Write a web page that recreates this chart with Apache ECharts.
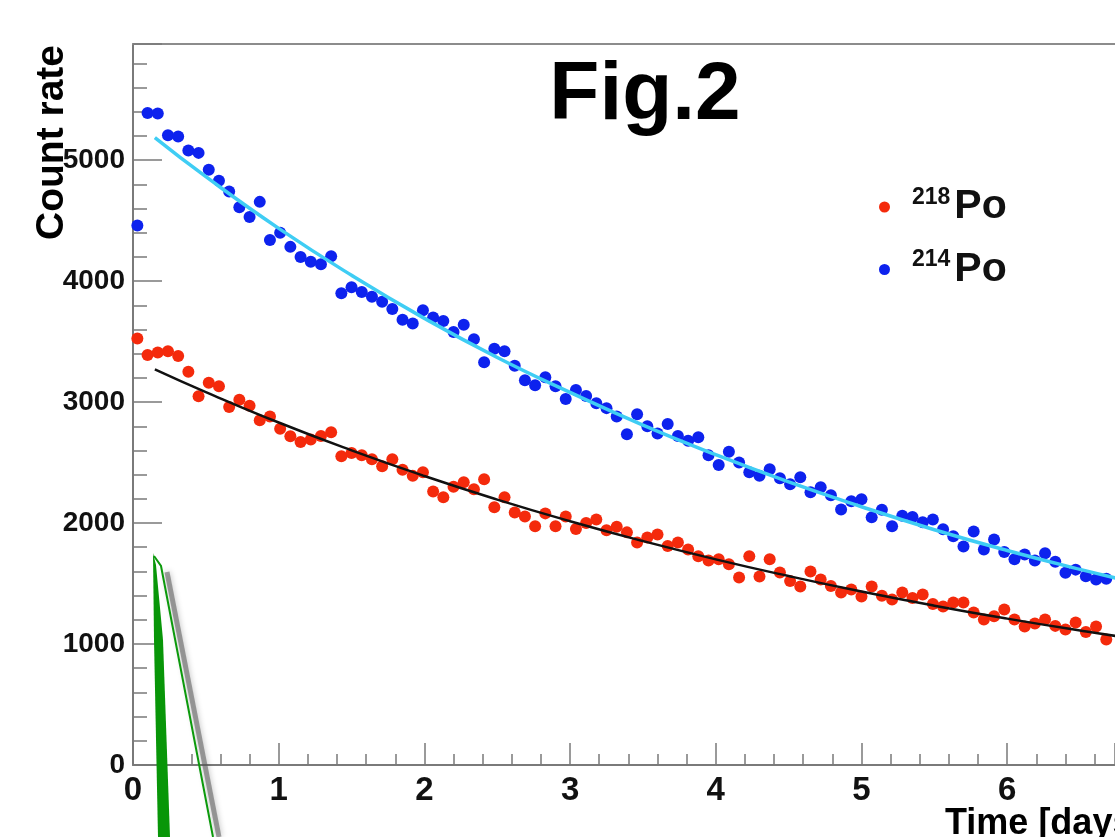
<!DOCTYPE html>
<html>
<head>
<meta charset="utf-8">
<script src="https://cdn.jsdelivr.net/npm/echarts@6/dist/echarts.min.js"></script>
<style>
  html, body { margin: 0; padding: 0; background: #ffffff; }
  #chart { width: 1115px; height: 837px; }
</style>
</head>
<body>
<div id="chart"></div>
<script>
// ---- data ----
const times = [0.03,0.10,0.17,0.24,0.31,0.38,0.45,0.52,0.59,0.66,0.73,0.80,0.87,0.94,1.01,1.08,1.15,1.22,1.29,1.36,
  1.43,1.50,1.57,1.64,1.71,1.78,1.85,1.92,1.99,2.06,2.13,2.20,2.27,2.34,2.41,2.48,2.55,2.62,2.69,2.76,
  2.83,2.90,2.97,3.04,3.11,3.18,3.25,3.32,3.39,3.46,3.53,3.60,3.67,3.74,3.81,3.88,3.95,4.02,4.09,4.16,
  4.23,4.30,4.37,4.44,4.51,4.58,4.65,4.72,4.79,4.86,4.93,5.00,5.07,5.14,5.21,5.28,5.35,5.42,5.49,5.56,
  5.63,5.70,5.77,5.84,5.91,5.98,6.05,6.12,6.19,6.26,6.33,6.40,6.47,6.54,6.61,6.68,6.75,6.82];

const po214 = [4460,5390,5385,5205,5195,5080,5060,4920,4830,4740,4610,4530,4655,4340,4400,4283,4200,4160,4140,4205,
  3900,3950,3910,3870,3830,3770,3680,3650,3760,3700,3670,3580,3640,3520,3330,3440,3420,3300,3180,3140,
  3205,3130,3025,3100,3050,2990,2950,2880,2735,2900,2800,2740,2818,2720,2680,2709,2560,2480,2590,2500,
  2420,2390,2445,2370,2320,2378,2254,2296,2230,2113,2180,2196,2047,2110,1973,2060,2050,2006,2030,1948,
  1890,1807,1930,1782,1865,1760,1700,1740,1690,1750,1680,1590,1615,1560,1534,1540,1509,1480];

const po218 = [3525,3390,3410,3421,3380,3250,3049,3160,3130,2960,3020,2970,2850,2880,2780,2718,2670,2690,2720,2750,
  2552,2580,2560,2527,2470,2527,2440,2390,2420,2260,2213,2300,2337,2280,2362,2130,2213,2088,2055,1973,
  2080,1973,2055,1950,2000,2030,1940,1970,1923,1840,1880,1906,1810,1840,1782,1725,1690,1700,1660,1550,
  1725,1559,1700,1592,1520,1476,1600,1534,1480,1426,1450,1393,1476,1400,1368,1426,1380,1410,1330,1310,
  1343,1343,1260,1203,1230,1285,1203,1145,1170,1203,1150,1120,1178,1100,1145,1037,1060,1040];

const fitTimes = [0.15,0.5,1.0,1.5,2.0,2.5,3.0,3.5,4.0,4.5,5.0,5.5,6.0,6.5,7.0,7.5];
const fit214 = [5186,4863,4436,4048,3692,3369,3080,2810,2565,2340,2135,1945,1773,1617,1475,1346];
const fit218 = [3271,3083,2831,2601,2389,2194,2015,1851,1700,1562,1434,1317,1210,1112,1021,938];

const seriesNames = ['218Po', '214Po'];
const xTitle = 'Time [days]';
const yTitle = 'Count rate';
const figTitle = 'Fig.2';

// ---- chart ----
const chart = echarts.init(document.getElementById('chart'), null, { renderer: 'canvas' });
const FONT = '"Liberation Sans", Arial, Helvetica, sans-serif';
const axisGray = '#7a7a7a';

const option = {
  backgroundColor: '#ffffff',
  animation: false,
  grid: {
    left: 133, top: 44, right: 0, bottom: 72,
    show: false
  },
  xAxis: [
    {
      type: 'value', min: 0, max: 6.74, interval: 1, position: 'bottom',
      axisLine: { show: true, onZero: false, lineStyle: { color: axisGray, width: 2 } },
      axisTick: { show: true, inside: true, length: 22, lineStyle: { color: axisGray, width: 1.5 } },
      minorTick: { show: true, splitNumber: 5, length: 11, lineStyle: { color: axisGray, width: 1.5 } },
      splitLine: { show: false },
      axisLabel: { show: true, showMaxLabel: false, margin: 9, color: '#111', fontFamily: FONT, fontWeight: 'bold', fontSize: 33 }
    },
    {
      type: 'value', min: 0, max: 6.74, position: 'top',
      axisLine: { show: true, onZero: false, lineStyle: { color: '#8c8c8c', width: 2 } },
      axisTick: { show: false }, axisLabel: { show: false }, splitLine: { show: false }
    }
  ],
  yAxis: {
    type: 'value', min: 0, max: 5960, interval: 1000,
    axisLine: { show: true, onZero: false, lineStyle: { color: axisGray, width: 2 } },
    axisTick: { show: true, inside: true, length: 29, lineStyle: { color: axisGray, width: 1.5 } },
    minorTick: { show: true, splitNumber: 5, length: 14, lineStyle: { color: axisGray, width: 1.5 } },
    splitLine: { show: false },
    axisLabel: {
      show: true, showMaxLabel: false, margin: 8, color: '#111', fontFamily: FONT, fontWeight: 'bold', fontSize: 28,
      formatter: function (v) { return String(v); }
    }
  },
  legend: {
    orient: 'vertical', left: 879, top: 186, itemGap: 21, padding: 0,
    itemWidth: 11, itemHeight: 11, icon: 'circle',
    data: seriesNames,
    formatter: function (name) {
      return '{s|' + name.slice(0, 3) + '}{p|' + name.slice(3) + '}';
    },
    textStyle: {
      color: '#111',
      rich: {
        s: { fontFamily: FONT, fontWeight: 'bold', fontSize: 23, color: '#111', padding: [0, 4, 19, 17] },
        p: { fontFamily: FONT, fontWeight: 'bold', fontSize: 41, color: '#111' }
      }
    }
  },
  series: [
    {
      name: seriesNames[0], type: 'scatter', symbol: 'circle', symbolSize: 12,
      itemStyle: { color: '#f42a0c', opacity: 1 },
      data: times.map((t, i) => [t, po218[i]]), z: 2
    },
    {
      name: seriesNames[1], type: 'scatter', symbol: 'circle', symbolSize: 12,
      itemStyle: { color: '#0d22ee', opacity: 1 },
      data: times.map((t, i) => [t, po214[i]]), z: 2
    },
    {
      name: 'fit218', type: 'line', smooth: true, showSymbol: false, symbol: 'none',
      lineStyle: { color: '#111111', width: 2.5 },
      data: fitTimes.map((t, i) => [t, fit218[i]]), z: 3
    },
    {
      name: 'fit214', type: 'line', smooth: true, showSymbol: false, symbol: 'none',
      lineStyle: { color: '#3fcdf4', width: 3.5 },
      data: fitTimes.map((t, i) => [t, fit214[i]]), z: 3
    }
  ],
  graphic: [
    {
      type: 'text', z: 10, x: 645, y: 96,
      style: { text: figTitle, fill: '#000', font: 'bold 82px ' + FONT, textAlign: 'center', textVerticalAlign: 'middle' }
    },
    {
      type: 'text', z: 10, x: 945, y: 806,
      style: { text: xTitle, fill: '#000', font: 'bold 36px ' + FONT, textAlign: 'left', textVerticalAlign: 'top' }
    },
    {
      type: 'text', z: 10, x: 52, y: 45, rotation: Math.PI / 2,
      style: { text: yTitle, fill: '#000', font: 'bold 39px ' + FONT, textAlign: 'right', textVerticalAlign: 'middle' }
    },
    // green arrow annotation (bottom left)
    {
      type: 'polyline', z: 9,
      shape: { points: [[167, 572], [219, 837]] },
      style: { stroke: 'rgba(90,90,90,0.55)', lineWidth: 5, shadowBlur: 6, shadowColor: 'rgba(0,0,0,0.5)', fill: null }
    },
    {
      type: 'polyline', z: 10,
      shape: { points: [[154, 556], [161, 566], [213, 837]] },
      style: { stroke: '#0c9a0c', lineWidth: 2, fill: null }
    },
    {
      type: 'polygon', z: 10,
      shape: { points: [[153, 553], [156, 565], [163, 640], [170, 837], [158, 837], [154, 640]] },
      style: { fill: '#089608' }
    }
  ]
};
chart.setOption(option);
</script>
</body>
</html>
